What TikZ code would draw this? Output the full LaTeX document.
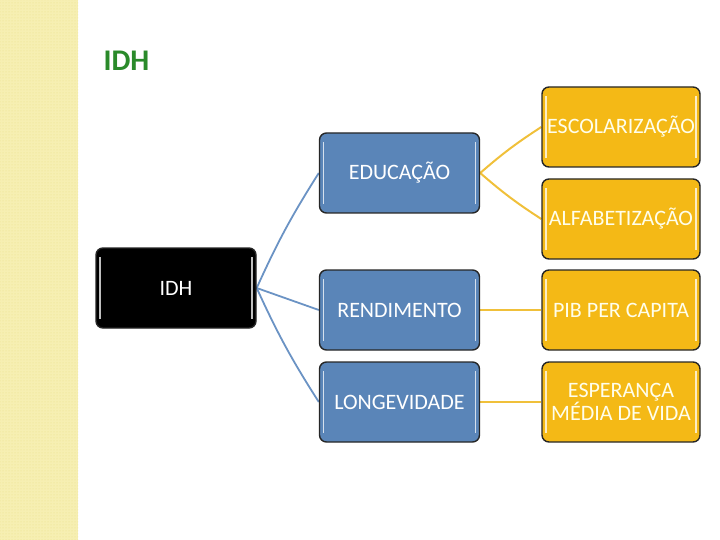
\documentclass[tikz,border=0pt]{standalone}
\usepackage{fontspec}
\setmainfont{Carlito}
\usetikzlibrary{patterns,backgrounds}
\definecolor{boxblue}{HTML}{5A85B8}
\definecolor{boxgold}{HTML}{F4B916}
\definecolor{lineblue}{HTML}{6B93C4}
\definecolor{linegold}{HTML}{F0C03A}
\definecolor{stripe}{HTML}{F6EFB2}
\definecolor{stripedot}{HTML}{EADF8A}
\definecolor{titlegreen}{HTML}{2A8A2A}
\tikzset{
  card/.style={rounded corners=7pt, draw=black!85, line width=1.4pt,
    minimum width=160pt, minimum height=80pt, inner sep=2pt,
    text=white, font=\fontsize{22}{23}\selectfont, align=center,
    path picture={
      \draw[white, opacity=0.75, line width=1.2pt]
        ([xshift=4pt,yshift=-9pt]path picture bounding box.north west) --
        ([xshift=4pt,yshift=9pt]path picture bounding box.south west);
      \draw[white, opacity=0.75, line width=1.2pt]
        ([xshift=-4pt,yshift=-9pt]path picture bounding box.north east) --
        ([xshift=-4pt,yshift=9pt]path picture bounding box.south east);
    }},
  bluecard/.style={card, fill=boxblue},
  goldcard/.style={card, fill=boxgold, minimum width=158pt, text=white!92!yellow},
  blackcard/.style={card, fill=black},
  blink/.style={draw=lineblue, line width=1.8pt},
  glink/.style={draw=linegold, line width=2pt}
}
\begin{document}
\begin{tikzpicture}[x=1pt,y=-1pt]
\useasboundingbox (0,0) rectangle (720,540);
\fill[stripe] (0,0) rectangle (78,540);
\fill[pattern=dots, pattern color=stripedot] (0,0) rectangle (78,540);
\node[text=titlegreen, font=\bfseries\fontsize{30}{32}\selectfont, anchor=west] (title) at (100,61) {IDH};

\node[blackcard] (idh) at (176,288) {IDH};
\node[bluecard] (edu) at (399.5,173) {EDUCAÇÃO};
\node[bluecard] (ren) at (399.5,310) {RENDIMENTO};
\node[bluecard] (lon) at (399.5,402) {LONGEVIDADE};
\node[goldcard] (esc) at (621,127) {ESCOLARIZAÇÃO};
\node[goldcard] (alf) at (621,219) {ALFABETIZAÇÃO};
\node[goldcard] (pib) at (621,310) {PIB PER CAPITA};
\node[goldcard] (esp) at (621,402) {ESPERANÇA\\MÉDIA DE VIDA};

\begin{scope}[on background layer]
\draw[blink] (idh.east) to[bend left=4] (edu.west);
\draw[blink] (idh.east) -- (ren.west);
\draw[blink] (idh.east) to[bend right=4] (lon.west);
\draw[glink] (edu.east) to[bend left=4] (esc.west);
\draw[glink] (edu.east) to[bend right=4] (alf.west);
\draw[glink] (ren.east) -- (pib.west);
\draw[glink] (lon.east) -- (esp.west);
\end{scope}
\end{tikzpicture}
\end{document}
